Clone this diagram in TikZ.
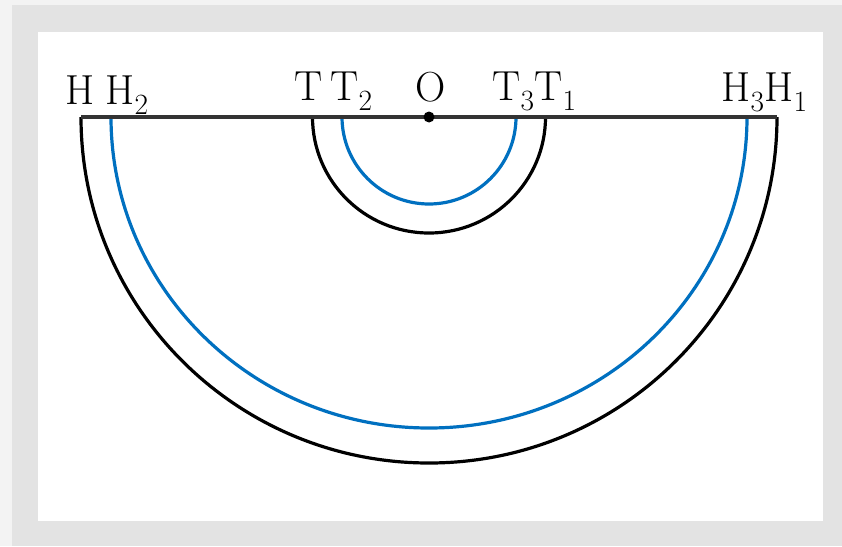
\documentclass[tikz,border=0pt]{standalone}
\usepackage{tikz}
\definecolor{SemiBlue}{HTML}{0070C0}
\definecolor{SemiLine}{HTML}{333333}
\definecolor{SemiGrey}{HTML}{E3E3E3}
\definecolor{SemiPale}{HTML}{F3F3F3}

\begin{document}
\begin{tikzpicture}[x=1pt,y=-1pt,
 ring/.style={line width=3.2pt},
 bluering/.style={ring,draw=SemiBlue},
 lbl/.style={anchor=base,inner sep=0pt,font=\fontsize{42}{50}\selectfont}]
\fill[SemiPale] (0,0) rectangle (842,546);
\fill[SemiGrey] (12,5) rectangle (842,546);
\fill[white] (38,32) rectangle (823,521);
\useasboundingbox (0,0) rectangle (842,546);
% points on the diameter
\coordinate (O) at (429,117);
\coordinate (H) at (81,117);
\coordinate (H1) at (777,117);
\coordinate (H2) at (111,117);
\coordinate (T) at (312.5,117);
\coordinate (T2) at (342,117);
% semicircles
\draw[ring] (H) arc[start angle=180,end angle=0,x radius=348,y radius=346];
\draw[bluering] (H2) arc[start angle=180,end angle=0,x radius=318,y radius=311];
\draw[ring] (T) arc[start angle=180,end angle=0,x radius=116.5,y radius=116];
\draw[bluering] (T2) arc[start angle=180,end angle=0,x radius=87,y radius=87];
\draw[line width=3.2pt,draw=SemiLine] (H) -- (H1);
\fill (O) circle[radius=5.5];
% labels
\node[lbl] (lH) at (80.5,104) {H};
\node[lbl] (lH2) at (127,104) {H\textsubscript{2}};
\node[lbl] (lT) at (309,100) {T};
\node[lbl] (lT2) at (351.5,100) {T\textsubscript{2}};
\node[lbl] (lO) at (430.5,101) {O};
\node[lbl] (lT31) at (534.5,100) {T\textsubscript{3}T\textsubscript{1}};
\node[lbl] (lH31) at (764.5,101) {H\textsubscript{3}H\textsubscript{1}};
\end{tikzpicture}
\end{document}
